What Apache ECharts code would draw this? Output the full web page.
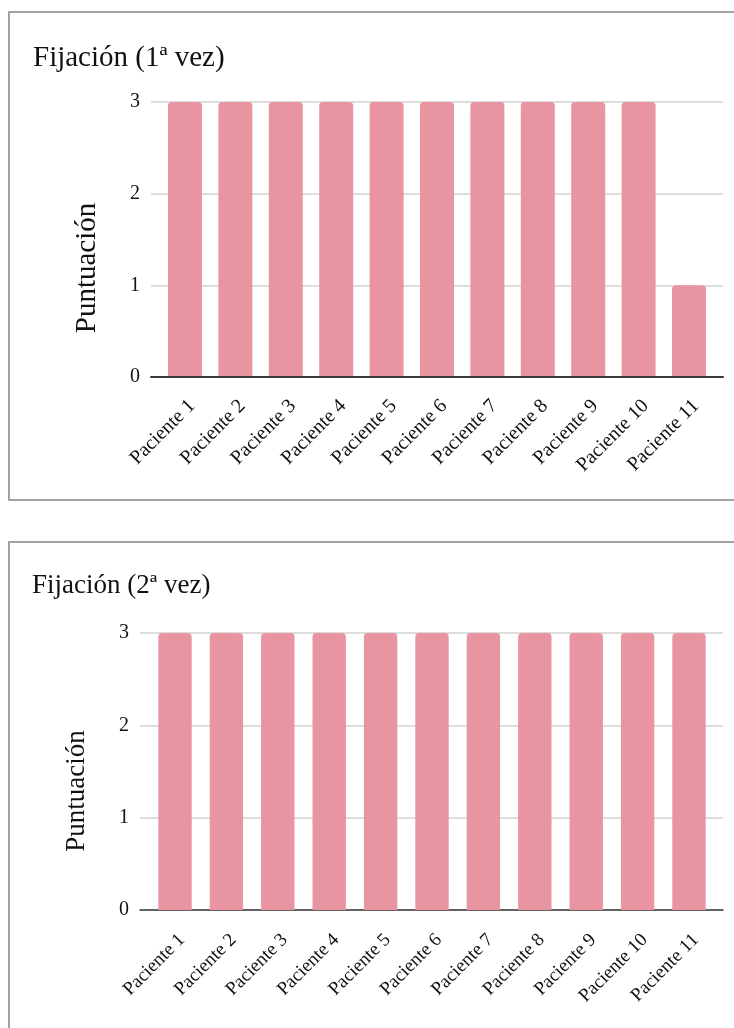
<!DOCTYPE html>
<html lang="es">
<head>
<meta charset="utf-8">
<title>Fijación</title>
<script src="https://cdn.jsdelivr.net/npm/echarts@6/dist/echarts.min.js"></script>
<style>
  html, body { margin: 0; padding: 0; background: #fff; }
  #chart { width: 734px; height: 1028px; }
</style>
</head>
<body>
<div id="chart"></div>
<script>
// Datos
const pacientes = ['Paciente 1', 'Paciente 2', 'Paciente 3', 'Paciente 4', 'Paciente 5', 'Paciente 6',
                   'Paciente 7', 'Paciente 8', 'Paciente 9', 'Paciente 10', 'Paciente 11'];
const fijacion1 = [3, 3, 3, 3, 3, 3, 3, 3, 3, 3, 1];
const fijacion2 = [3, 3, 3, 3, 3, 3, 3, 3, 3, 3, 3];
const titulos = ['Fijación (1ª vez)', 'Fijación (2ª vez)'];
const nombreEje = 'Puntuación';
const escala = { min: 0, max: 3, interval: 1 };

const FONT = '"Liberation Serif", "Times New Roman", serif';
const ROSA = '#e994a1';
const TEXTO = '#111111';

const chart = echarts.init(document.getElementById('chart'), null, { renderer: 'canvas' });

// Each panel uses three grids: gridlines / base line / value labels,
// the bars, and the rotated category labels (nudged right of the bar centres).
function panel(idx, cfg, valores) {
  const g = idx * 3;
  const common = { top: cfg.top, bottom: 1028 - cfg.base, outerBoundsMode: 'none' };
  return {
    grid: [
      Object.assign({ left: cfg.lineLeft, right: 734 - cfg.lineRight }, common),
      Object.assign({ left: cfg.barLeft, width: cfg.barSpan }, common),
      Object.assign({ left: cfg.barLeft + cfg.labelShift, width: cfg.barSpan }, common)
    ],
    xAxis: [
      {
        gridIndex: g, type: 'category', data: pacientes, z: cfg.axisOnTop ? 5 : 0,
        axisLine: { show: true, lineStyle: { color: '#3a3a3a', width: cfg.axisWidth } },
        axisTick: { show: false }, axisLabel: { show: false }, splitLine: { show: false }
      },
      {
        gridIndex: g + 1, type: 'category', data: pacientes,
        axisLine: { show: false }, axisTick: { show: false }, splitLine: { show: false },
        axisLabel: { show: false }
      },
      {
        gridIndex: g + 2, type: 'category', data: pacientes,
        axisLine: { show: false }, axisTick: { show: false }, splitLine: { show: false },
        axisLabel: {
          interval: 0, rotate: 45, margin: cfg.labelMargin,
          fontFamily: FONT, fontSize: cfg.labelSize, color: TEXTO
        }
      }
    ],
    yAxis: [
      {
        gridIndex: g, type: 'value', min: escala.min, max: escala.max, interval: escala.interval,
        axisLine: { show: false }, axisTick: { show: false },
        splitLine: { lineStyle: { color: '#d2d2d2', width: 1.5 } },
        axisLabel: { margin: 11, fontFamily: FONT, fontSize: 20, color: TEXTO }
      },
      {
        gridIndex: g + 1, type: 'value', min: escala.min, max: escala.max, interval: escala.interval,
        show: false
      },
      {
        gridIndex: g + 2, type: 'value', min: escala.min, max: escala.max, interval: escala.interval,
        show: false
      }
    ],
    series: [{
      type: 'bar', xAxisIndex: g + 1, yAxisIndex: g + 1, data: valores,
      barWidth: cfg.barWidth,
      itemStyle: { color: ROSA, borderRadius: [4, 4, 0, 0] },
      silent: true
    }]
  };
}

const p1 = panel(0, {
  lineLeft: 151, lineRight: 723, top: 102, base: 377,
  barLeft: 159.8, barSpan: 554.4, barWidth: 34,
  labelMargin: 26, labelShift: 7, labelSize: 20, axisWidth: 2, axisOnTop: true
}, fijacion1);

const p2 = panel(1, {
  lineLeft: 140, lineRight: 723, top: 633, base: 910,
  barLeft: 149.3, barSpan: 565.4, barWidth: 33.4,
  labelMargin: 27, labelShift: 7, labelSize: 19, axisWidth: 1.5, axisOnTop: false
}, fijacion2);

const option = {
  animation: false,
  backgroundColor: '#ffffff',
  grid: p1.grid.concat(p2.grid),
  xAxis: p1.xAxis.concat(p2.xAxis),
  yAxis: p1.yAxis.concat(p2.yAxis),
  series: p1.series.concat(p2.series),
  graphic: [
    // panel frames
    { type: 'rect', z: -1, shape: { x: 9, y: 12, width: 780, height: 488 },
      style: { fill: 'none', stroke: '#a3a3a3', lineWidth: 2 } },
    { type: 'rect', z: -1, shape: { x: 9, y: 542, width: 780, height: 540 },
      style: { fill: 'none', stroke: '#a3a3a3', lineWidth: 2 } },
    // titles
    { type: 'text', x: 33, y: 58,
      style: { text: titulos[0], font: '29px ' + FONT, fill: TEXTO, align: 'left', verticalAlign: 'middle' } },
    { type: 'text', x: 32, y: 586,
      style: { text: titulos[1], font: '27px ' + FONT, fill: TEXTO, align: 'left', verticalAlign: 'middle' } },
    // value axis names
    { type: 'text', x: 87, y: 268, rotation: Math.PI / 2,
      style: { text: nombreEje, font: '29px ' + FONT, fill: TEXTO, align: 'center', verticalAlign: 'middle' } },
    { type: 'text', x: 77, y: 791, rotation: Math.PI / 2,
      style: { text: nombreEje, font: '27px ' + FONT, fill: TEXTO, align: 'center', verticalAlign: 'middle' } }
  ]
};

chart.setOption(option);
</script>
</body>
</html>
